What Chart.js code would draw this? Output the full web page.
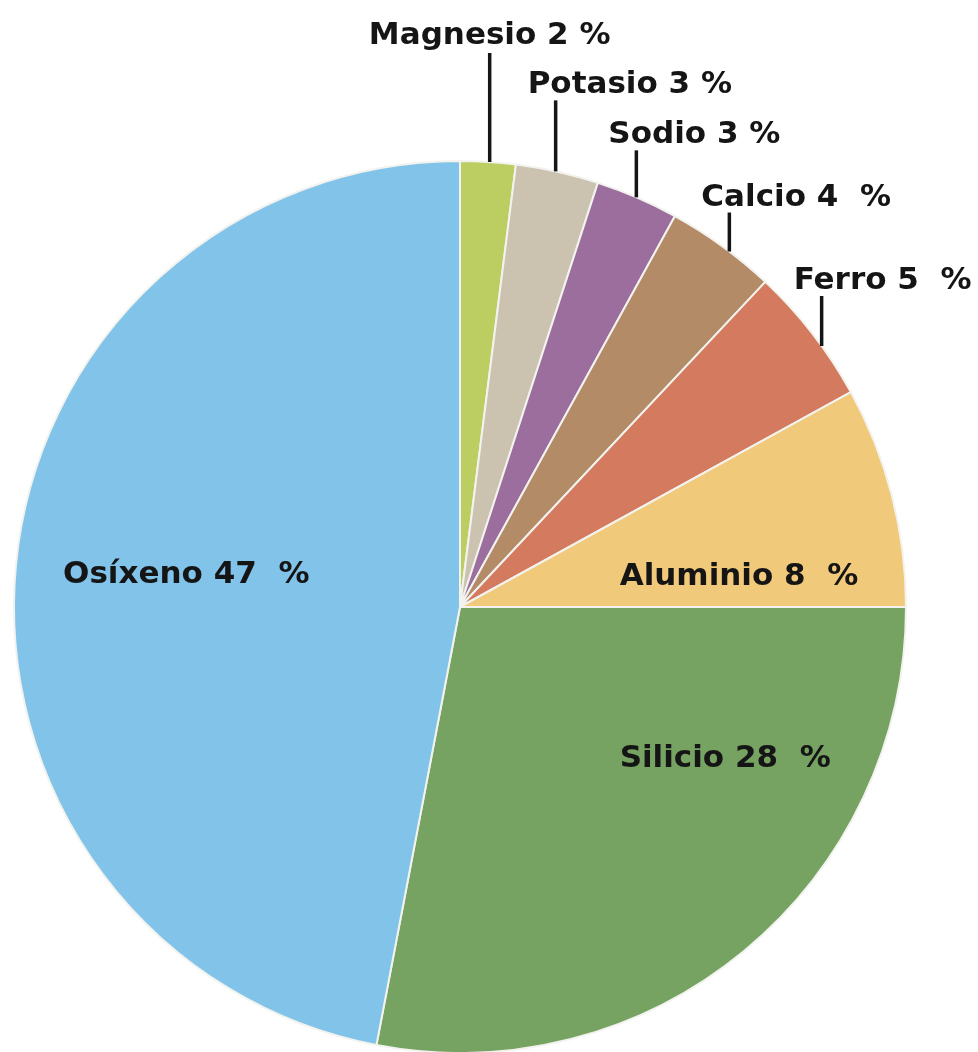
<!DOCTYPE html>
<html>
<head>
<meta charset="utf-8">
<script src="https://cdn.jsdelivr.net/npm/chart.js@4/dist/chart.umd.min.js"></script>
<style>
  html, body { margin: 0; padding: 0; background: #fff; overflow: hidden; }
  #wrap { width: 978px; height: 1060px; }
</style>
</head>
<body>
<div id="wrap"><canvas id="pie"></canvas></div>
<script>
// data
const categories = ['Magnesio', 'Potasio', 'Sodio', 'Calcio', 'Ferro', 'Aluminio', 'Silicio', 'Osíxeno'];
const values = [2, 3, 3, 4, 5, 8, 28, 47];
const labelTexts = ['Magnesio 2 %', 'Potasio 3 %', 'Sodio 3 %', 'Calcio 4  %', 'Ferro 5  %',
  'Aluminio 8  %', 'Silicio 28  %', 'Osíxeno 47  %'];
const colors = ['#bccd62', '#cbc2b0', '#9b6e9d', '#b38b67', '#d47a5e', '#f0c97a', '#76a262', '#82c3ea'];

// label placement: outside ones get a vertical leader line (at = where along the slice it starts),
// inside ones sit at an offset (in radii) from the centre
const labelLayout = [
  { at: 0.53, leader: 109, align: 'center' },
  { at: 0.48, leader: 71, align: 'left' },
  { at: 0.49, leader: 47, align: 'left' },
  { at: 0.58, leader: 39, align: 'left' },
  { at: 0.61, leader: 50, align: 'left' },
  { inside: [0.358, -0.049] },
  { inside: [0.358, 0.358] },
  { inside: [-0.890, -0.054] }
];

const pieLabels = {
  id: 'pieLabels',
  afterDatasetsDraw(chart) {
    const ctx = chart.ctx;
    const arcs = chart.getDatasetMeta(0).data;
    ctx.save();
    ctx.font = 'bold 31px "DejaVu Sans", Verdana, sans-serif';
    ctx.fillStyle = '#151515';
    ctx.strokeStyle = '#151515';
    ctx.lineWidth = 3.5;
    ctx.textBaseline = 'alphabetic';
    arcs.forEach((arc, i) => {
      const { x, y, startAngle, endAngle, outerRadius } = arc.getProps(['x', 'y', 'startAngle', 'endAngle', 'outerRadius'], true);
      const lay = labelLayout[i];
      if (lay.inside) {
        ctx.textAlign = 'left';
        ctx.fillText(labelTexts[i], x + lay.inside[0] * outerRadius, y + lay.inside[1] * outerRadius);
        return;
      }
      const a = startAngle + (endAngle - startAngle) * lay.at;
      const px = x + Math.cos(a) * outerRadius;
      const py = y + Math.sin(a) * outerRadius;
      const top = py - lay.leader;
      ctx.beginPath();
      ctx.moveTo(px, py);
      ctx.lineTo(px, top);
      ctx.stroke();
      if (lay.align === 'center') {
        ctx.textAlign = 'center';
        ctx.fillText(labelTexts[i], px, top - 9);
      } else {
        ctx.textAlign = 'left';
        ctx.fillText(labelTexts[i], px - 28, top - 7);
      }
    });
    ctx.restore();
  }
};

new Chart(document.getElementById('pie'), {
  type: 'pie',
  data: {
    labels: categories,
    datasets: [{
      data: values,
      backgroundColor: colors,
      borderColor: '#f2f2ee',
      borderWidth: 2
    }]
  },
  options: {
    responsive: true,
    maintainAspectRatio: false,
    animation: false,
    layout: { padding: { left: 13, right: 71, top: 160, bottom: 6 } },
    plugins: {
      legend: { display: false },
      tooltip: { enabled: false }
    }
  },
  plugins: [pieLabels]
});
</script>
</body>
</html>
